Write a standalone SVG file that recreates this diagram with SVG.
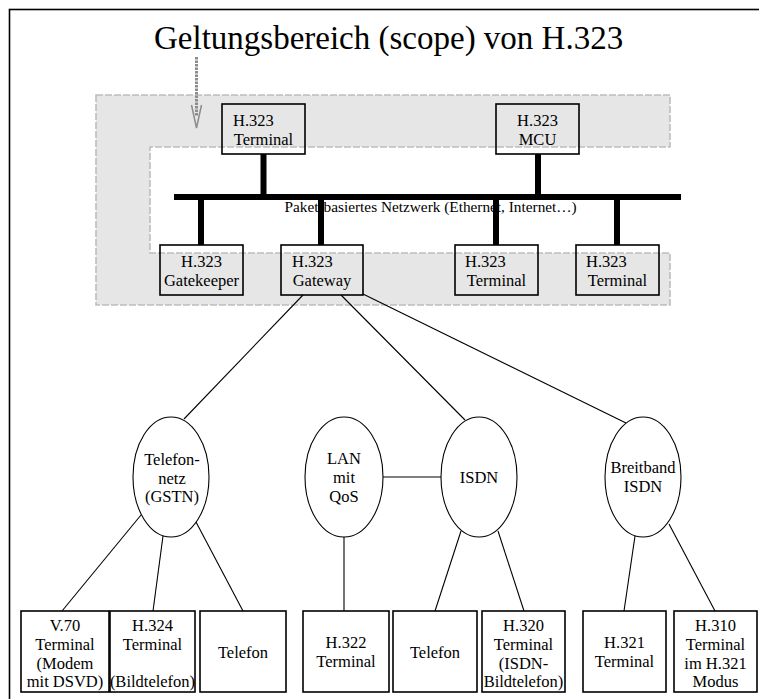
<svg xmlns="http://www.w3.org/2000/svg" width="759" height="699" viewBox="0 0 759 699">
<style>
text{font-family:"Liberation Serif","Times New Roman",serif;font-size:16.5px;fill:#000}
.c{text-anchor:middle}
.box{fill:none;stroke:#000;stroke-width:1.6}
.ell{fill:#fff;stroke:#000;stroke-width:1.1}
.ln{stroke:#000;stroke-width:1.1;fill:none}
.bus{stroke:#000;stroke-width:6;fill:none}
</style>
<rect x="9.5" y="9.5" width="800" height="800" fill="#fff" stroke="#000" stroke-width="1.6"/>
<g id="scope">
<polygon points="96,95 670,95 670,147 150,147 150,253 670,253 670,305 96,305" fill="#e6e6e6" stroke="#bdbdbd" stroke-width="1.6" stroke-dasharray="7,2"/>
<text x="154" y="49" style="font-size:33px">Geltungsbereich (scope) von H.323</text>
<line x1="196.5" y1="57" x2="196.5" y2="116" stroke="#8c8c8c" stroke-width="3" stroke-dasharray="2.5,1"/>
<polyline points="191.5,105 196.5,128 201.5,105" fill="none" stroke="#8c8c8c" stroke-width="1.5"/>
</g>
<g id="connectors">
<line class="bus" x1="174" y1="197" x2="681" y2="197"/>
<text x="284.5" y="212" style="font-size:15.3px">Paket-basiertes Netzwerk (Ethernet, Internet…)</text>
<line class="bus" x1="263.5" y1="154" x2="263.5" y2="197"/>
<line class="bus" x1="538" y1="154" x2="538" y2="197"/>
<line class="bus" x1="201" y1="197" x2="201" y2="245"/>
<line class="bus" x1="321" y1="197" x2="321" y2="245"/>
<line class="bus" x1="496" y1="197" x2="496" y2="245"/>
<line class="bus" x1="617" y1="197" x2="617" y2="245"/>
<line class="ln" x1="303" y1="295" x2="184" y2="419"/>
<line class="ln" x1="341" y1="295" x2="465" y2="420"/>
<line class="ln" x1="363" y1="294" x2="626" y2="423"/>
<line class="ln" x1="383" y1="477" x2="441" y2="477"/>
<line class="ln" x1="141" y1="515" x2="62" y2="611"/>
<line class="ln" x1="163" y1="536" x2="153" y2="611"/>
<line class="ln" x1="196" y1="522" x2="243" y2="611"/>
<line class="ln" x1="344" y1="537" x2="344" y2="611"/>
<line class="ln" x1="461" y1="531" x2="435" y2="611"/>
<line class="ln" x1="498" y1="531" x2="524" y2="611"/>
<line class="ln" x1="635" y1="536" x2="624" y2="611"/>
<line class="ln" x1="669" y1="524" x2="715" y2="611"/>
</g>
<g id="terminal-top"><rect class="box" x="222" y="104" width="83" height="50"/><text x="233" y="126">H.323</text><text class="c" x="263.5" y="145">Terminal</text></g>
<g id="mcu"><rect class="box" x="496" y="104" width="83" height="50"/><text class="c" x="537.5" y="126">H.323</text><text class="c" x="537.5" y="145">MCU</text></g>
<g id="gatekeeper"><rect class="box" x="160" y="245" width="83" height="50"/><text class="c" x="201.5" y="267">H.323</text><text class="c" x="201.5" y="286">Gatekeeper</text></g>
<g id="gateway"><rect class="box" x="281" y="245" width="82" height="50"/><text x="292" y="267">H.323</text><text class="c" x="322" y="286">Gateway</text></g>
<g id="terminal-3"><rect class="box" x="455" y="245" width="83" height="50"/><text x="465" y="267">H.323</text><text class="c" x="496.5" y="286">Terminal</text></g>
<g id="terminal-4"><rect class="box" x="576" y="245" width="83" height="50"/><text x="586" y="267">H.323</text><text class="c" x="617.5" y="286">Terminal</text></g>
<g id="gstn"><ellipse class="ell" cx="171" cy="477" rx="38" ry="60"/><text class="c" x="172" y="465">Telefon-</text><text class="c" x="172" y="484">netz</text><text class="c" x="172" y="502">(GSTN)</text></g>
<g id="lan"><ellipse class="ell" cx="344" cy="477" rx="39" ry="60"/><text class="c" x="344" y="464">LAN</text><text class="c" x="344" y="483">mit</text><text class="c" x="344" y="502">QoS</text></g>
<g id="isdn"><ellipse class="ell" cx="479" cy="477" rx="38" ry="60"/><text class="c" x="479" y="483">ISDN</text></g>
<g id="b-isdn"><ellipse class="ell" cx="643" cy="477" rx="38" ry="60"/><text class="c" x="643" y="473">Breitband</text><text class="c" x="643" y="492">ISDN</text></g>
<g id="v70"><rect class="box" x="21" y="611" width="88" height="81"/><text class="c" x="65" y="631">V.70</text><text class="c" x="65" y="650">Terminal</text><text class="c" x="65" y="669">(Modem</text><text class="c" x="65" y="687">mit DSVD)</text></g>
<g id="h324"><rect class="box" x="110" y="611" width="85" height="81"/><text class="c" x="152.5" y="631">H.324</text><text class="c" x="152.5" y="650">Terminal</text><text class="c" x="152.5" y="687">(Bildtelefon)</text></g>
<g id="telefon-1"><rect class="box" x="200" y="611" width="86" height="81"/><text class="c" x="243" y="658">Telefon</text></g>
<g id="h322"><rect class="box" x="303" y="611" width="86" height="81"/><text class="c" x="346" y="648">H.322</text><text class="c" x="346" y="667">Terminal</text></g>
<g id="telefon-2"><rect class="box" x="393" y="611" width="84" height="81"/><text class="c" x="435" y="658">Telefon</text></g>
<g id="h320"><rect class="box" x="482" y="611" width="83" height="81"/><text class="c" x="523.5" y="631">H.320</text><text class="c" x="523.5" y="650">Terminal</text><text class="c" x="523.5" y="669">(ISDN-</text><text class="c" x="523.5" y="687">Bildtelefon)</text></g>
<g id="h321"><rect class="box" x="583" y="611" width="83" height="81"/><text class="c" x="624.5" y="648">H.321</text><text class="c" x="624.5" y="667">Terminal</text></g>
<g id="h310"><rect class="box" x="674" y="611" width="83" height="81"/><text class="c" x="715.5" y="631">H.310</text><text class="c" x="715.5" y="650">Terminal</text><text class="c" x="715.5" y="669">im H.321</text><text class="c" x="715.5" y="687">Modus</text></g>
</svg>
